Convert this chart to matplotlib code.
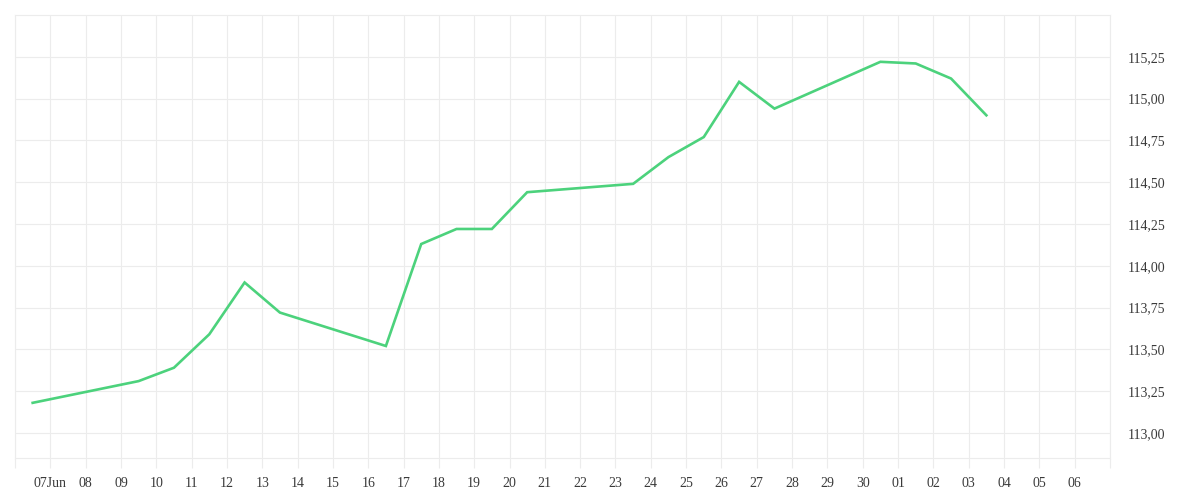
import pandas as pd
import matplotlib
matplotlib.use("Agg")
import matplotlib.pyplot as plt
import matplotlib.dates as mdates
from matplotlib.ticker import FixedLocator, FuncFormatter

# trading days (2025) and closing values
dates = ["2025-06-06", "2025-06-09", "2025-06-10", "2025-06-11", "2025-06-12",
         "2025-06-13", "2025-06-16", "2025-06-17", "2025-06-18", "2025-06-19",
         "2025-06-20", "2025-06-23", "2025-06-24", "2025-06-25", "2025-06-26",
         "2025-06-27", "2025-06-30", "2025-07-01", "2025-07-02", "2025-07-03"]
values = [113.18, 113.31, 113.39, 113.59, 113.90,
          113.72, 113.52, 114.13, 114.22, 114.22,
          114.44, 114.49, 114.65, 114.77, 115.10,
          114.94, 115.22, 115.21, 115.12, 114.90]
y_ticks = [113.00, 113.25, 113.50, 113.75, 114.00, 114.25, 114.50, 114.75, 115.00, 115.25]

line_color = "#4cd27c"
grid_color = "#ececec"
text_color = "#3a3a3a"

plt.rcParams['font.family'] = ['Liberation Serif', 'DejaVu Serif']

x = pd.to_datetime(dates) + pd.Timedelta(hours=12)
days = pd.date_range("2025-06-06", "2025-07-07", freq="D")

fig = plt.figure(figsize=(12, 5), dpi=100)
ax = fig.add_axes([0.0125, 0.084, 0.9125, 0.886])

ax.plot(x, values, color=line_color, linewidth=1.9, solid_joinstyle="miter")

ax.set_xlim(days[0], days[-1])
ax.set_ylim(112.85, 115.50)

ax.xaxis.set_major_locator(FixedLocator(mdates.date2num(days)))


def day_label(v, pos):
    d = mdates.num2date(v)
    if pos == 0 or pos == len(days) - 1:
        return ""
    if d.month == 6 and d.day == 7:
        return "07Jun"
    return d.strftime("%d")


ax.xaxis.set_major_formatter(FuncFormatter(day_label))
ax.set_yticks(y_ticks)
ax.yaxis.set_major_formatter(FuncFormatter(lambda v, p: f"{v:.2f}".replace(".", ",")))
ax.yaxis.tick_right()

ax.grid(True, color=grid_color, linewidth=0.8)
ax.set_axisbelow(True)
for side in ["left", "right", "top", "bottom"]:
    ax.spines[side].set_color(grid_color)
    ax.spines[side].set_linewidth(0.8)

ax.tick_params(axis="x", length=7, width=0.8, color=grid_color, pad=7,
               labelsize=10, labelcolor=text_color)
ax.tick_params(axis="y", length=0, pad=13, labelsize=10, labelcolor=text_color)

fig.savefig("out.png", dpi=100)
